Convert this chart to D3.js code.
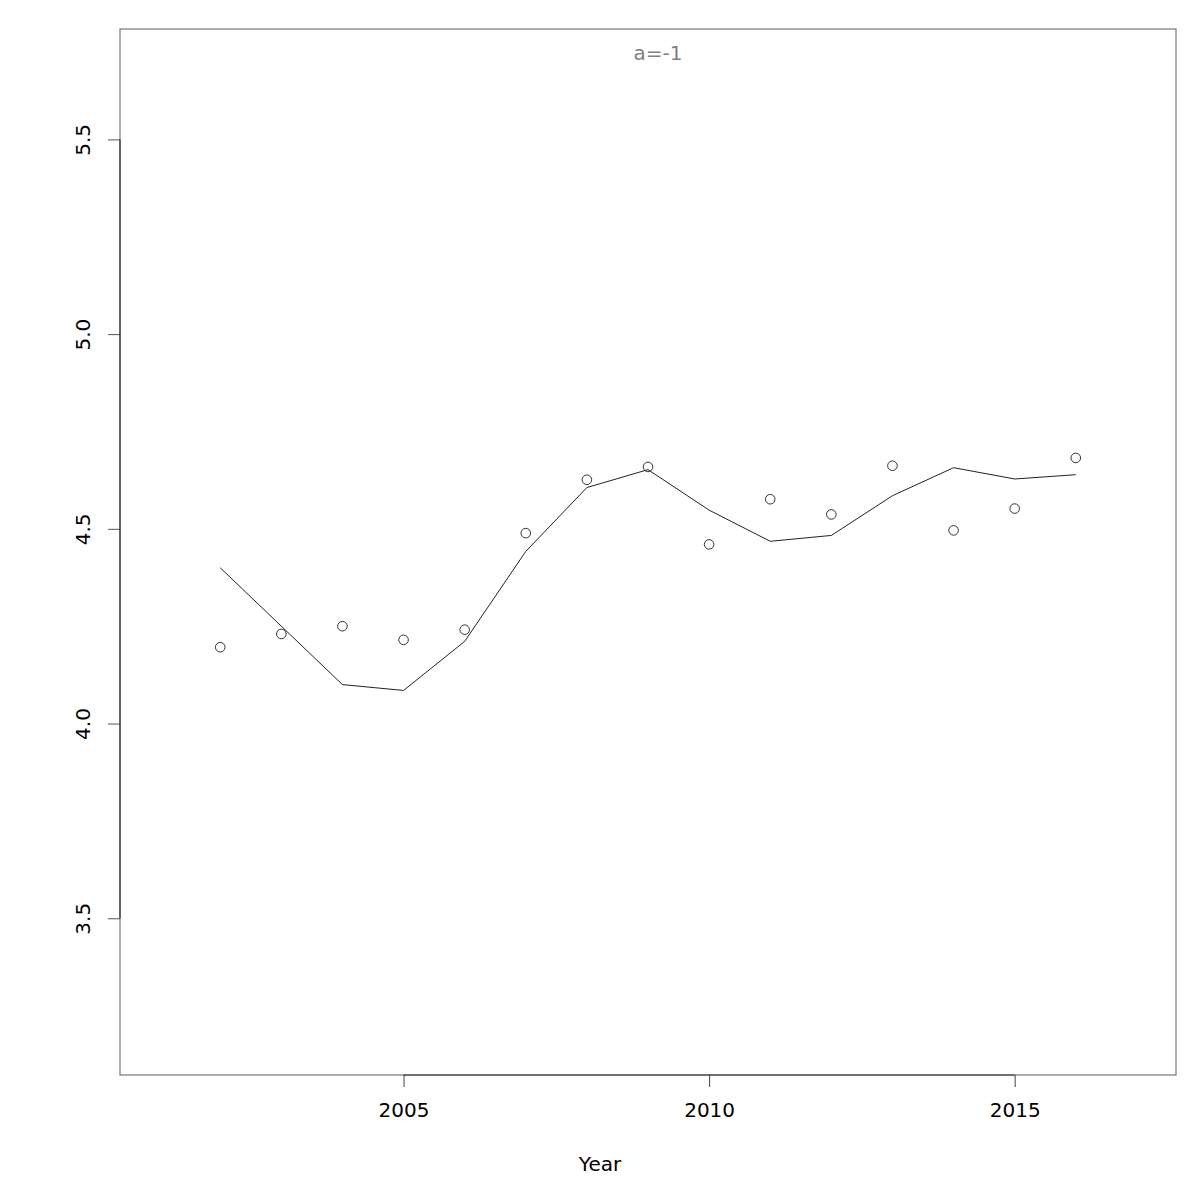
<!DOCTYPE html>
<html>
<head>
<meta charset="utf-8">
<script src="https://cdn.jsdelivr.net/npm/d3@7"></script>
<style>
  html, body { margin: 0; padding: 0; background: #fff; }
  text { font-family: "DejaVu Sans", sans-serif; }
</style>
</head>
<body>
<script>
const years = [2002, 2003, 2004, 2005, 2006, 2007, 2008, 2009, 2010, 2011, 2012, 2013, 2014, 2015, 2016];
const observed = [4.196, 4.230, 4.250, 4.215, 4.241, 4.489, 4.626, 4.659, 4.460, 4.576, 4.537, 4.662, 4.496, 4.552, 4.682];
const fitted = [4.400, 4.250, 4.100, 4.085, 4.211, 4.442, 4.606, 4.652, 4.548, 4.468, 4.483, 4.585, 4.657, 4.628, 4.639];
const xTicks = [2005, 2010, 2015];
const yTicks = [3.5, 4.0, 4.5, 5.0, 5.5];
const xLimits = [2001, 2017];
const yLimits = [3.197, 5.684];
const titleText = "a=-1";
const xLabel = "Year";

const W = 1200, H = 1200;
const box = { left: 120, right: 1176, top: 29, bottom: 1075 };

function extend(lim) {
  const d = (lim[1] - lim[0]) * 0.04;
  return [lim[0] - d, lim[1] + d];
}

const x = d3.scaleLinear().domain(extend(xLimits)).range([box.left, box.right]);
const y = d3.scaleLinear().domain(extend(yLimits)).range([box.bottom, box.top]);

const svg = d3.select("body").append("svg")
  .attr("width", W).attr("height", H);

svg.append("rect").attr("width", W).attr("height", H).attr("fill", "#fff");

// plot box
svg.append("rect")
  .attr("x", box.left).attr("y", box.top)
  .attr("width", box.right - box.left).attr("height", box.bottom - box.top)
  .attr("fill", "none").attr("stroke", "#777").attr("stroke-width", 1.2);

// x axis
const xAxis = svg.append("g").attr("transform", `translate(0,${box.bottom})`)
  .call(d3.axisBottom(x).tickValues(xTicks).tickFormat(d3.format("d")).tickSize(12).tickSizeOuter(0));
xAxis.select(".domain").remove();
xAxis.append("line")
  .attr("x1", x(xTicks[0])).attr("x2", x(xTicks[xTicks.length - 1]))
  .attr("y1", 0).attr("y2", 0).attr("stroke", "#333").attr("stroke-width", 1.2);
xAxis.selectAll(".tick line").attr("stroke", "#444");
xAxis.selectAll(".tick text").attr("fill", "#000").attr("font-size", 20)
  .attr("font-family", "DejaVu Sans, sans-serif").attr("y", 28).attr("dy", "0.71em");

// y axis
const yAxis = svg.append("g").attr("transform", `translate(${box.left},0)`)
  .call(d3.axisLeft(y).tickValues(yTicks).tickFormat(d3.format(".1f")).tickSize(12).tickSizeOuter(0));
yAxis.select(".domain").remove();
yAxis.append("line")
  .attr("x1", 0).attr("x2", 0)
  .attr("y1", y(yTicks[0])).attr("y2", y(yTicks[yTicks.length - 1]))
  .attr("stroke", "#333").attr("stroke-width", 1.2);
yAxis.selectAll(".tick line").attr("stroke", "#555");
yAxis.selectAll(".tick text")
  .attr("fill", "#000").attr("font-size", 20).attr("font-family", "DejaVu Sans, sans-serif")
  .attr("x", null).attr("dy", null)
  .attr("text-anchor", "middle")
  .attr("transform", "translate(-37,0) rotate(-90)")
  .attr("dy", "0.36em");

// fitted line
const line = d3.line().x((d, i) => x(years[i])).y(d => y(d));
svg.append("path").datum(fitted)
  .attr("d", line).attr("fill", "none").attr("stroke", "#222").attr("stroke-width", 1);

// observed points
svg.append("g").selectAll("circle").data(observed).join("circle")
  .attr("cx", (d, i) => x(years[i])).attr("cy", d => y(d))
  .attr("r", 4.8).attr("fill", "none").attr("stroke", "#333").attr("stroke-width", 1);

// title
svg.append("text").attr("x", 658).attr("y", 60)
  .attr("text-anchor", "middle").attr("font-size", 20).attr("fill", "#808080")
  .text(titleText);

// x label
svg.append("text").attr("x", 600).attr("y", 1171)
  .attr("text-anchor", "middle").attr("font-size", 20).attr("fill", "#000")
  .text(xLabel);
</script>
</body>
</html>
